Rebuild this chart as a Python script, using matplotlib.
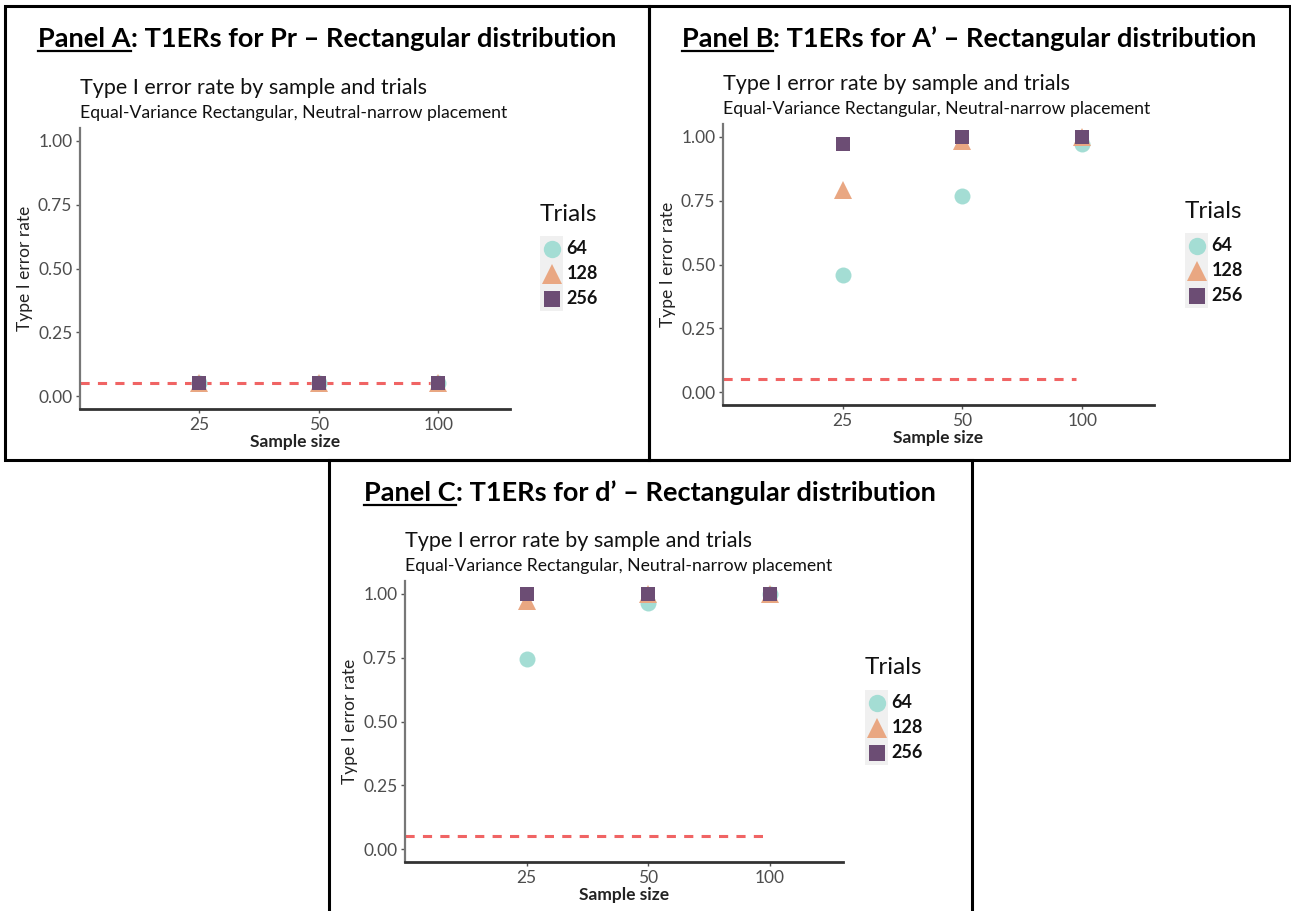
import matplotlib
matplotlib.use("Agg")
import matplotlib.pyplot as plt
from matplotlib.patches import Rectangle
from matplotlib.lines import Line2D

# data
sample_sizes = ["25", "50", "100"]
trials = ["64", "128", "256"]
alpha_level = 0.05

pr_64 = [0.05, 0.05, 0.05]
pr_128 = [0.052, 0.052, 0.052]
pr_256 = [0.05, 0.05, 0.05]

aprime_64 = [0.46, 0.77, 0.97]
aprime_128 = [0.79, 0.985, 1.00]
aprime_256 = [0.97, 1.00, 1.00]

dprime_64 = [0.745, 0.965, 1.00]
dprime_128 = [0.97, 1.00, 1.00]
dprime_256 = [1.00, 1.00, 1.00]

# styles
colors = ["#a4ddd4", "#e9a782", "#6c4d74"]
markers = ["o", "^", "s"]
msizes = [11.5, 13, 10]
leg_msizes = [12.5, 15, 11.5]
dash_color = "#f06464"

chart_title = "Type I error rate by sample and trials"
chart_subtitle = "Equal-Variance Rectangular, Neutral-narrow placement"

W, H = 1291, 911
fig = plt.figure(figsize=(W / 100, H / 100), dpi=100)
fig.patch.set_facecolor("white")
plt.rcParams["font.family"] = ["Lato", "DejaVu Sans"]


def fx(x):
    return x / W


def fy(y):
    return 1 - y / H


def px_rect(x0, y0, x1, y1):
    return [fx(x0), fy(y1), (x1 - x0) / W, (y1 - y0) / H]


# panel layout in pixels
panels = [
    dict(bold="Panel A", rest=": T1ERs for Pr \u2013 Rectangular distribution",
         box=(5, 6, 649, 460), hx=327, hy=47,
         ax=(80, 128, 510, 409), leg=(540, 236, 563, 311),
         rates=[pr_64, pr_128, pr_256]),
    dict(bold="Panel B", rest=": T1ERs for A\u2019 \u2013 Rectangular distribution",
         box=(649, 6, 1290, 460), hx=969, hy=47,
         ax=(723, 124, 1154, 405), leg=(1185, 233, 1208, 308),
         rates=[aprime_64, aprime_128, aprime_256]),
    dict(bold="Panel C", rest=": T1ERs for d\u2019 \u2013 Rectangular distribution",
         box=(329, 460, 972, 913), hx=650, hy=501,
         ax=(405, 581, 843, 862), leg=(865, 690, 888, 765),
         rates=[dprime_64, dprime_128, dprime_256]),
]

renderer = fig.canvas.get_renderer()
head_font = dict(fontsize=19.5, fontweight="bold", color="black")

for p in panels:
    # black frame round each panel
    x0, y0, x1, y1 = p["box"]
    fig.patches.append(Rectangle((fx(x0), fy(y1)), (x1 - x0) / W, (y1 - y0) / H,
                                 transform=fig.transFigure, fill=False,
                                 edgecolor="black", linewidth=2.2, zorder=10))

    # header with underlined "Panel X"
    t1 = fig.text(0, fy(p["hy"]), p["bold"], va="baseline", ha="left", **head_font)
    t2 = fig.text(0, fy(p["hy"]), p["rest"], va="baseline", ha="left", **head_font)
    w1 = t1.get_window_extent(renderer).width
    w2 = t2.get_window_extent(renderer).width
    start = p["hx"] - (w1 + w2) / 2
    t1.set_x(fx(start))
    t2.set_x(fx(start + w1))
    fig.lines.append(Line2D([fx(start), fx(start + w1)], [fy(p["hy"] + 4)] * 2,
                            transform=fig.transFigure, color="black", linewidth=1.6))

    # the chart itself
    ax_px = p["ax"]
    ax = fig.add_axes(px_rect(*ax_px))
    wpx = ax_px[2] - ax_px[0]
    hpx = ax_px[3] - ax_px[1]
    xs = range(1, len(sample_sizes) + 1)

    ax.hlines(alpha_level, 0, 2.95, colors=dash_color, linestyles=(0, (3.0, 2.7)),
              linewidth=2.2, zorder=1)
    for vals, c, m, ms in zip(p["rates"], colors, markers, msizes):
        ax.plot(xs, vals, linestyle="none", marker=m, markersize=ms,
                color=c, markeredgewidth=0, zorder=3)

    ax.set_xlim(0, 3.6)
    ax.set_ylim(-0.05, 1.05)
    ax.set_xticks(list(xs))
    ax.set_xticklabels(sample_sizes)
    ax.set_yticks([0, 0.25, 0.5, 0.75, 1.0])
    ax.set_yticklabels(["0.00", "0.25", "0.50", "0.75", "1.00"])
    for s in ["top", "right"]:
        ax.spines[s].set_visible(False)
    ax.spines["left"].set_color("#777777")
    ax.spines["left"].set_linewidth(1.6)
    ax.spines["bottom"].set_color("#333333")
    ax.spines["bottom"].set_linewidth(2.0)
    ax.tick_params(axis="both", length=3, width=1, color="#555555",
                   labelsize=12.5, labelcolor="#4d4d4d", pad=2.5)
    ax.set_xlabel("Sample size", fontsize=12.5, fontweight="bold", color="#222222")
    ax.set_ylabel("Type I error rate", fontsize=12.5, color="#222222")
    ax.xaxis.set_label_coords(0.5, -25 / hpx)
    ax.yaxis.set_label_coords(-47 / wpx, 0.5)

    ax.text(0, 1 + 40 / hpx, chart_title, transform=ax.transAxes,
            fontsize=15.5, color="#111111", ha="left", va="center")
    ax.text(0, 1 + 15 / hpx, chart_subtitle, transform=ax.transAxes,
            fontsize=12.7, color="#111111", ha="left", va="center")

    # legend drawn as a small key strip
    lx0, ly0, lx1, ly1 = p["leg"]
    lax = fig.add_axes(px_rect(lx0, ly0, lx1, ly1))
    lax.set_facecolor("#f0f0f0")
    for sp in lax.spines.values():
        sp.set_visible(False)
    lax.set_xticks([])
    lax.set_yticks([])
    lax.set_xlim(-1, 1)
    lax.set_ylim(len(trials) - 0.5, -0.5)
    for i, (lab, c, m, ms) in enumerate(zip(trials, colors, markers, leg_msizes)):
        lax.plot([0], [i], linestyle="none", marker=m, markersize=ms, color=c,
                 markeredgewidth=0)
        lax.text(1.3, i, lab, transform=lax.transData, fontsize=13,
                 fontweight="bold", color="#111111", ha="left", va="center")
    lax.text(0, 1 + 22 / (ly1 - ly0), "Trials", transform=lax.transAxes,
             fontsize=17.5, color="#111111", ha="left", va="center")

fig.savefig("out.png", dpi=100)
